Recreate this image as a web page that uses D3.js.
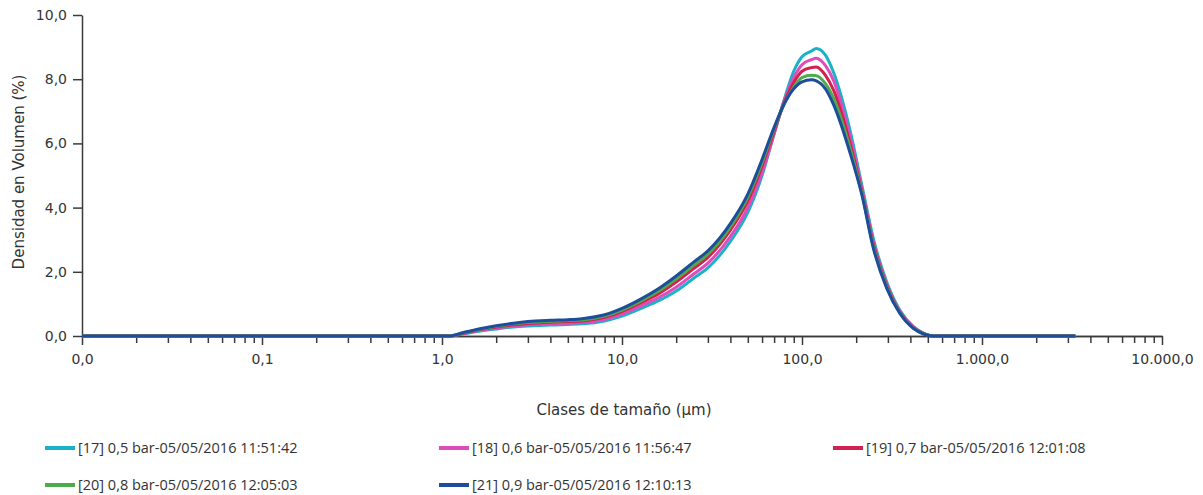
<!DOCTYPE html>
<html>
<head>
<meta charset="utf-8">
<script src="https://cdnjs.cloudflare.com/ajax/libs/d3/7.8.5/d3.min.js"></script>
<style>
  body { margin: 0; background: #fff; }
  svg { display: block; }
  .axis path, .axis line { stroke: #3a3a3a; stroke-width: 1.5; }
  .axis text { font-family: "DejaVu Sans", sans-serif; font-size: 14px; fill: #333; }
</style>
</head>
<body>
<svg width="1203" height="495"></svg>
<script>
// size classes (µm)
var sizes = [0.01, 1.0, 1.1, 1.3, 1.6, 2, 2.5, 3, 4, 5, 6, 8, 10, 13, 16, 20, 25, 30, 40, 50, 60, 70, 80, 90, 100, 113, 120, 135, 150, 185, 215, 250, 295, 350, 415, 470, 530, 3300];

var s17 = [0, 0, 0, 0.06, 0.15, 0.22, 0.28, 0.31, 0.34, 0.36, 0.38, 0.47, 0.62, 0.88, 1.1, 1.4, 1.8, 2.12, 2.95, 3.85, 5.0, 6.3, 7.4, 8.25, 8.7, 8.88, 8.96, 8.75, 8.2, 6.4, 4.7, 3.0, 1.7, 0.8, 0.3, 0.1, 0, 0];
var s18 = [0, 0, 0, 0.07, 0.17, 0.25, 0.31, 0.35, 0.38, 0.40, 0.42, 0.52, 0.68, 0.96, 1.2, 1.52, 1.93, 2.27, 3.1, 4.0, 5.1, 6.3, 7.35, 8.05, 8.45, 8.61, 8.65, 8.42, 7.95, 6.2, 4.6, 2.9, 1.63, 0.76, 0.28, 0.09, 0, 0];
var s19 = [0, 0, 0, 0.08, 0.19, 0.28, 0.35, 0.39, 0.43, 0.45, 0.47, 0.58, 0.76, 1.06, 1.32, 1.68, 2.1, 2.45, 3.3, 4.2, 5.3, 6.38, 7.3, 7.9, 8.25, 8.36, 8.38, 8.12, 7.65, 6.0, 4.5, 2.82, 1.58, 0.73, 0.26, 0.08, 0, 0];
var s20 = [0, 0, 0, 0.09, 0.20, 0.30, 0.38, 0.42, 0.46, 0.48, 0.50, 0.62, 0.81, 1.12, 1.4, 1.78, 2.2, 2.55, 3.4, 4.33, 5.4, 6.45, 7.25, 7.75, 8.05, 8.12, 8.11, 7.86, 7.4, 5.85, 4.45, 2.75, 1.54, 0.71, 0.25, 0.08, 0, 0];
var s21 = [0, 0, 0, 0.10, 0.22, 0.32, 0.40, 0.45, 0.49, 0.51, 0.54, 0.66, 0.86, 1.18, 1.48, 1.87, 2.3, 2.65, 3.5, 4.42, 5.5, 6.5, 7.25, 7.7, 7.92, 7.98, 7.95, 7.7, 7.2, 5.7, 4.4, 2.7, 1.5, 0.7, 0.24, 0.07, 0, 0];

var seriesNames = [
  "[17] 0,5 bar-05/05/2016 11:51:42",
  "[18] 0,6 bar-05/05/2016 11:56:47",
  "[19] 0,7 bar-05/05/2016 12:01:08",
  "[20] 0,8 bar-05/05/2016 12:05:03",
  "[21] 0,9 bar-05/05/2016 12:10:13"
];
var seriesValues = [s17, s18, s19, s20, s21];
var colors = ["#1bb1c8", "#de4cbc", "#d3214f", "#4dab4b", "#1d4e9b"];

var xMajor = [0.01, 0.1, 1, 10, 100, 1000, 10000];
var yTicks = [0, 2, 4, 6, 8, 10];

var svg = d3.select("svg");

var esLocale = d3.formatLocale({decimal: ",", thousands: ".", grouping: [3], currency: ["", " €"]});
var fmt = esLocale.format(",.1f");

var x = d3.scaleLog().domain([0.01, 10000]).range([82, 1162]);
var y = d3.scaleLinear().domain([0, 10]).range([336, 15]);

// minor ticks
var xMinor = [];
xMajor.slice(0, -1).forEach(function (d) {
  for (var k = 2; k <= 9; k++) xMinor.push(d * k);
});

svg.append("g")
  .attr("class", "axis")
  .attr("transform", "translate(0," + y(0) + ")")
  .call(d3.axisBottom(x).tickValues(xMinor).tickSize(7).tickSizeOuter(0).tickFormat(""));

svg.append("g")
  .attr("class", "axis")
  .attr("transform", "translate(0," + y(0) + ")")
  .call(d3.axisBottom(x).tickValues(xMajor).tickSize(9).tickSizeOuter(0).tickPadding(9).tickFormat(fmt));

svg.append("g")
  .attr("class", "axis")
  .attr("transform", "translate(" + x(0.01) + ",0)")
  .call(d3.axisLeft(y).tickValues(yTicks).tickSize(9).tickSizeOuter(0).tickPadding(6).tickFormat(fmt));

// curves
var line = d3.line()
  .x(function (d) { return x(d[0]); })
  .y(function (d) { return y(d[1]); })
  .curve(d3.curveMonotoneX);

seriesValues.forEach(function (vals, i) {
  svg.append("path")
    .datum(sizes.map(function (s, j) { return [s, vals[j]]; }))
    .attr("fill", "none")
    .attr("stroke", colors[i])
    .attr("stroke-width", 3)
    .attr("stroke-linejoin", "round")
    .attr("d", line);
});

// axis titles
svg.append("text")
  .attr("x", 624).attr("y", 415)
  .attr("text-anchor", "middle")
  .style("font-family", "DejaVu Sans, sans-serif")
  .style("font-size", "15px")
  .style("fill", "#333")
  .text("Clases de tamaño (µm)");

svg.append("text")
  .attr("transform", "translate(24,172) rotate(-90)")
  .attr("text-anchor", "middle")
  .style("font-family", "DejaVu Sans, sans-serif")
  .style("font-size", "15px")
  .style("fill", "#333")
  .text("Densidad en Volumen (%)");

// legend
var legend = svg.append("g");
seriesNames.forEach(function (name, i) {
  var col = i % 3, row = Math.floor(i / 3);
  var lx = 45 + col * 394, ly = 448 + row * 37;
  legend.append("line")
    .attr("x1", lx).attr("x2", lx + 30)
    .attr("y1", ly).attr("y2", ly)
    .attr("stroke", colors[i])
    .attr("stroke-width", 4);
  legend.append("text")
    .attr("x", lx + 33).attr("y", ly + 5)
    .style("font-family", "Open Sans, sans-serif")
    .style("font-size", "14.5px")
    .style("fill", "#333")
    .text(name);
});
</script>
</body>
</html>
